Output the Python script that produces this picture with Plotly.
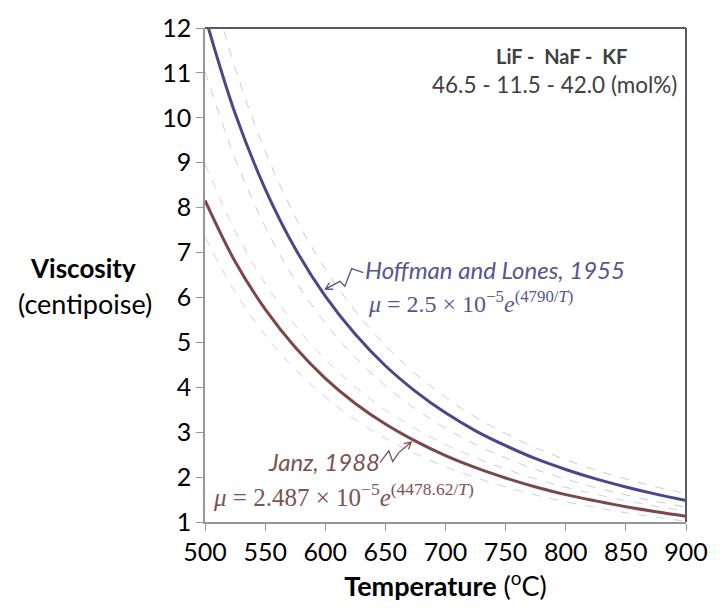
import math
import plotly.graph_objects as go

# ---- data ----
temperature_c = [500, 525, 550, 575, 600, 625, 650, 675, 700, 725, 750, 775, 800, 825, 850, 875, 900]
hoffman_cp = [12.26, 10.10, 8.42, 7.09, 6.03, 5.18, 4.48, 3.91, 3.43, 3.03, 2.70, 2.41, 2.17, 1.96, 1.78, 1.62, 1.48]
janz_cp = [8.16, 6.80, 5.74, 4.89, 4.20, 3.64, 3.18, 2.80, 2.48, 2.21, 1.98, 1.78, 1.61, 1.47, 1.34, 1.23, 1.13]
band_fraction = 0.10  # dashed envelope around each correlation

x_ticks = [500, 550, 600, 650, 700, 750, 800, 850, 900]
y_ticks = list(range(1, 13))

BLUE = "rgb(72,72,138)"
BROWN = "rgb(122,72,72)"
BLUE_TXT = "rgb(86,86,146)"
BROWN_TXT = "rgb(126,82,82)"
FONT = "Lato"

fig = go.Figure()

for vals, col in [(hoffman_cp, "rgba(195,195,218,0.9)"), (janz_cp, "rgba(218,200,205,0.9)")]:
    for f in (1 + band_fraction, 1 - band_fraction):
        fig.add_trace(go.Scatter(x=temperature_c, y=[v * f for v in vals], mode="lines",
                                 line=dict(color=col, width=1, dash="dash", shape="spline"),
                                 hoverinfo="skip", showlegend=False))

fig.add_trace(go.Scatter(x=temperature_c, y=hoffman_cp, mode="lines",
                         line=dict(color=BLUE, width=3, shape="spline"), showlegend=False))
fig.add_trace(go.Scatter(x=temperature_c, y=janz_cp, mode="lines",
                         line=dict(color=BROWN, width=3, shape="spline"), showlegend=False))

L, R, T, B = 205, 697, 17, 524


def px(x, y):
    return (x - L) / (R - L), (B - y) / (B - T)


def path(points, start=True):
    s = ""
    for i, (x, y) in enumerate(points):
        xp, yp = px(x, y)
        s += ("M" if i == 0 else " L") + f"{xp:.4f},{yp:.4f}"
    return s


def leader(points, col):
    """zigzag leader ending in an open arrowhead at the last point"""
    (x0, y0), (x1, y1) = points[-2], points[-1]
    ang = math.atan2(y0 - y1, x0 - x1)
    head = []
    for d in (0.5, -0.5):
        head.append((x1 + 8 * math.cos(ang + d), y1 + 8 * math.sin(ang + d)))
    p = path(points) + " " + path([head[0], (x1, y1), head[1]])
    return dict(type="path", xref="paper", yref="paper", path=p,
                line=dict(color=col, width=1.3))


shapes = [
    leader([(367, 268), (355, 264), (348, 282), (343, 277), (328, 285)], BLUE_TXT),
    leader([(384, 463), (393, 451), (397, 462), (403, 453), (416, 442)], BROWN_TXT),
    # top and right frame
    dict(type="line", xref="paper", yref="paper", x0=0, x1=1, y0=1, y1=1,
         line=dict(color="rgb(90,90,90)", width=2)),
    dict(type="line", xref="paper", yref="paper", x0=1, x1=1, y0=0, y1=1,
         line=dict(color="rgb(90,90,90)", width=2)),
]

annotations = []


def text(x, y, s, col="black", size=22, font=FONT, xanchor="center"):
    xp, yp = px(x, y)
    annotations.append(dict(xref="paper", yref="paper", x=xp, y=yp, text=s, showarrow=False,
                            xanchor=xanchor, yanchor="middle",
                            font=dict(family=font, size=size, color=col)))


text(570, 46, "<b>LiF -  NaF -  KF</b>", col="rgb(64,64,64)", size=20)
text(562, 75, "46.5 - 11.5 - 42.0 (mol%)", col="rgb(64,64,64)", size=22.5)
text(367, 265, "<i>Hoffman and Lones, 1955</i>", col=BLUE_TXT, size=24, xanchor="left")
text(370, 298, "<i>μ</i> = 2.5 × 10<sup>−5</sup><i>e</i><sup>(4790/<i>T</i>)</sup>",
     col=BLUE_TXT, size=24, font="Liberation Serif", xanchor="left")
text(386, 462, "<i>Janz, 1988</i>", col=BROWN_TXT, size=24, xanchor="right")
text(211, 496, "<i>μ</i> = 2.487 × 10<sup>−5</sup><i>e</i><sup>(4478.62/<i>T</i>)</sup>",
     col=BROWN_TXT, size=25, font="Liberation Serif", xanchor="left")

# y axis title (horizontal)
text(80, 263, "<b>Viscosity</b>", size=26)
text(82, 300, "(centipoise)", size=27)

fig.update_layout(
    width=720, height=609,
    margin=dict(l=L, r=720 - R, t=T, b=609 - B),
    paper_bgcolor="white", plot_bgcolor="white",
    font=dict(family=FONT, size=22, color="black"),
    shapes=shapes, annotations=annotations,
    xaxis=dict(range=[500, 900], tickvals=x_ticks, showgrid=False, zeroline=False,
               showline=True, linecolor="rgb(150,150,150)", linewidth=1.5,
               ticks="outside", ticklen=7, tickcolor="rgb(150,150,150)",
               tickfont=dict(size=25),
               title=dict(text="<b>Temperature</b> (<sup>o</sup>C)", font=dict(size=27), standoff=12)),
    yaxis=dict(range=[1, 12], tickvals=y_ticks, showgrid=False, zeroline=False,
               showline=True, linecolor="rgb(150,150,150)", linewidth=1.5,
               ticks="outside", ticklen=7, tickcolor="rgb(150,150,150)",
               tickfont=dict(size=25)),
)

fig.write_html("out.html")
